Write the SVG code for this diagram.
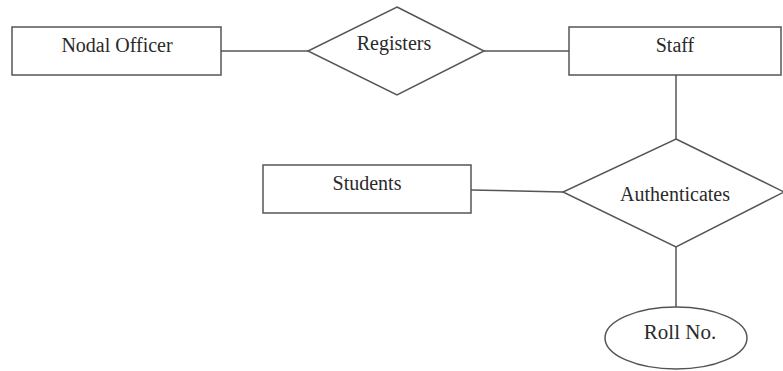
<svg xmlns="http://www.w3.org/2000/svg" width="783" height="371" viewBox="0 0 783 371">
<style>
.shape{fill:#fff;stroke:#555;stroke-width:1.5}
.conn{stroke:#555;stroke-width:1.5;fill:none}
.lbl{font-family:"Liberation Serif","Times New Roman",serif;font-size:20px;fill:#2a2a2a;text-anchor:middle}
</style>
<rect width="783" height="371" fill="#fff"/>
<g id="connectors">
<line class="conn" x1="221" y1="51" x2="308" y2="51"/>
<line class="conn" x1="484" y1="51" x2="569" y2="51"/>
<line class="conn" x1="676" y1="75" x2="676" y2="139"/>
<line class="conn" x1="471" y1="190" x2="563" y2="192"/>
<line class="conn" x1="676" y1="247" x2="676" y2="307"/>
</g>
<g id="nodal-officer">
<rect class="shape" x="12" y="27" width="209" height="48"/>
<text class="lbl" x="117" y="52">Nodal Officer</text>
</g>
<g id="registers">
<polygon class="shape" points="397,7 484,51 397,95 308,51"/>
<text class="lbl" x="394" y="50">Registers</text>
</g>
<g id="staff">
<rect class="shape" x="569" y="27" width="212" height="48"/>
<text class="lbl" x="675" y="52">Staff</text>
</g>
<g id="students">
<rect class="shape" x="263" y="165" width="208" height="48"/>
<text class="lbl" x="367" y="190">Students</text>
</g>
<g id="authenticates">
<polygon class="shape" points="676,139 784,192 676,247 563,192"/>
<text class="lbl" x="675" y="201">Authenticates</text>
</g>
<g id="roll-no">
<ellipse class="shape" cx="676" cy="338" rx="71" ry="31"/>
<text class="lbl" x="680" y="339" style="font-size:21px">Roll No.</text>
</g>
</svg>
